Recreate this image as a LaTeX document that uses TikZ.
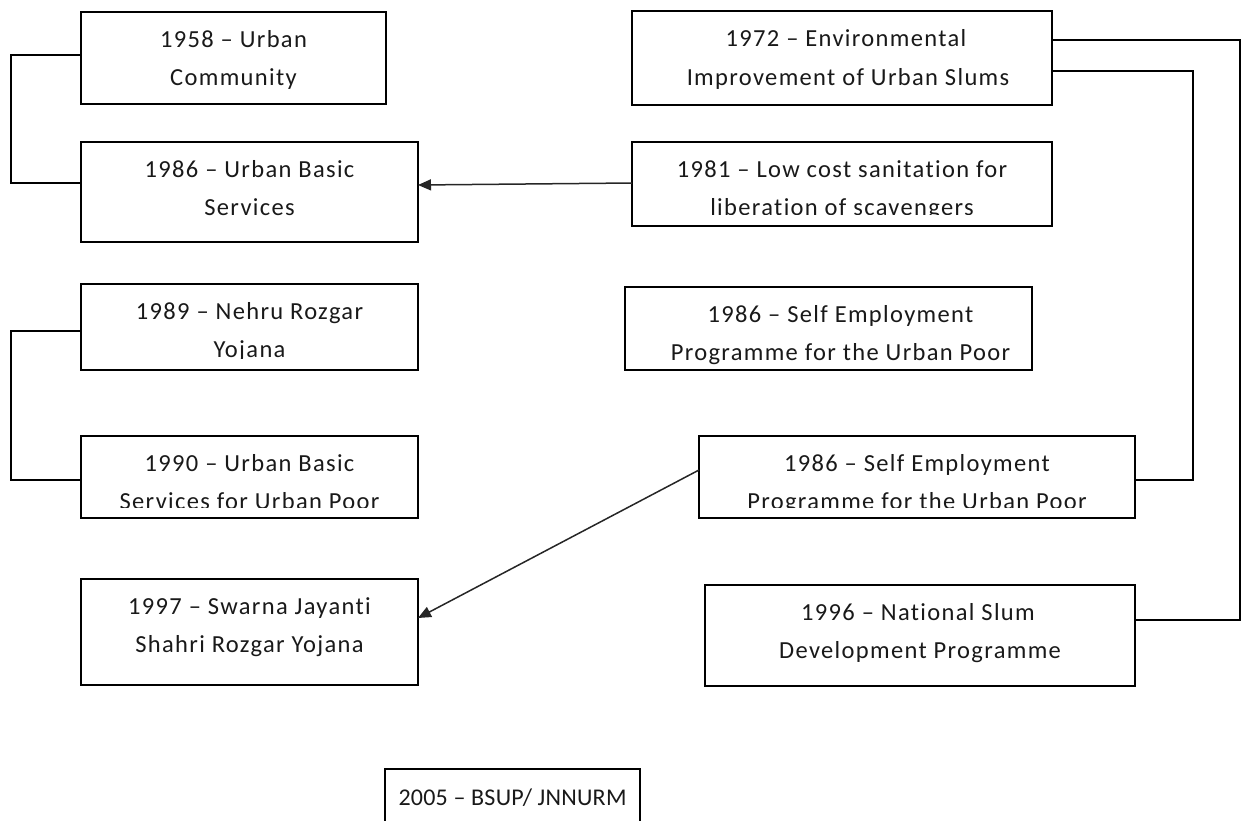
\documentclass[tikz,border=0pt]{standalone}
\usepackage{fontspec}
\setmainfont{Carlito}[LetterSpace=5.5,Ligatures=NoCommon]
\usetikzlibrary{arrows.meta}
\tikzset{
  box/.style={draw=black, line width=1.5pt, rectangle, inner sep=0pt, outer sep=0pt},
  txt/.style={inner sep=0pt, outer sep=0pt, anchor=base, font=\fontsize{24.5}{38}\selectfont, text=black!90},
  link/.style={draw=black, line width=1.5pt},
  arr/.style={draw=black!85, line width=1.5pt, -{Triangle[length=13pt,width=11pt]}},
}
\begin{document}
\begin{tikzpicture}[x=1pt,y=-1pt]
\useasboundingbox (0,0) rectangle (1243,820);
\clip (0,0) rectangle (1243,820);
% boxes
\node[box, minimum width=305pt, minimum height=92pt] (A) at (233.5,58) {};
\node[box, minimum width=337pt, minimum height=100pt] (B) at (249.5,192) {};
\node[box, minimum width=420pt, minimum height=94pt] (C) at (842,58) {};
\node[box, minimum width=420pt, minimum height=84pt] (D) at (842,184) {};
\node[box, minimum width=407pt, minimum height=83pt] (E) at (828.5,328.5) {};
\node[box, minimum width=436pt, minimum height=82pt] (F) at (917,477) {};
\node[box, minimum width=430pt, minimum height=101pt] (G) at (920,635.5) {};
\node[box, minimum width=337pt, minimum height=86pt] (H) at (249.5,327) {};
\node[box, minimum width=337pt, minimum height=82pt] (I) at (249.5,477) {};
\node[box, minimum width=337pt, minimum height=106pt] (J) at (249.5,632) {};
\node[box, minimum width=255pt, minimum height=80pt] (K) at (512.5,809) {};
% texts
\node[txt] (A1) at ([yshift=-35pt]A.north) {1958 – Urban};
\node[txt] (A2) at ([yshift=-73pt]A.north) {Community};
\node[txt] (B1) at ([yshift=-35pt]B.north) {1986 – Urban Basic};
\node[txt] (B2) at ([yshift=-73pt]B.north) {Services};
\node[txt] (C1) at ([yshift=-35pt,xshift=4pt]C.north) {1972 – Environmental};
\node[txt] (C2) at ([yshift=-74pt,xshift=6pt]C.north) {Improvement of Urban Slums};
\begin{scope}
\clip (D.north west) rectangle ([yshift=12pt]D.south east);
\node[txt] (D1) at ([yshift=-35pt]D.north) {1981 – Low cost sanitation for};
\node[txt] (D2) at ([yshift=-73pt]D.north) {liberation of scavengers};
\end{scope}
\node[txt] (E1) at ([yshift=-35pt,xshift=12pt]E.north) {1986 – Self Employment};
\node[txt] (E2) at ([yshift=-73pt,xshift=12pt]E.north) {Programme for the Urban Poor};
\begin{scope}
\clip (F.north west) rectangle ([yshift=11pt]F.south east);
\node[txt] (F1) at ([yshift=-35pt]F.north) {1986 – Self Employment};
\node[txt] (F2) at ([yshift=-73pt]F.north) {Programme for the Urban Poor};
\end{scope}
\node[txt] (G1) at ([yshift=-35pt,xshift=-2pt]G.north) {1996 – National Slum};
\node[txt] (G2) at ([yshift=-73pt]G.north) {Development Programme};
\begin{scope}
\clip (H.north west) rectangle ([yshift=12pt]H.south east);
\node[txt] (H1) at ([yshift=-35pt]H.north) {1989 – Nehru Rozgar};
\node[txt] (H2) at ([yshift=-73pt]H.north) {Yojana};
\end{scope}
\begin{scope}
\clip (I.north west) rectangle ([yshift=11pt]I.south east);
\node[txt] (I1) at ([yshift=-35pt]I.north) {1990 – Urban Basic};
\node[txt] (I2) at ([yshift=-73pt]I.north) {Services for Urban Poor};
\end{scope}
\node[txt] (J1) at ([yshift=-35pt]J.north) {1997 – Swarna Jayanti};
\node[txt] (J2) at ([yshift=-73pt]J.north) {Shahri Rozgar Yojana};
\node[txt, font=\fontsize{24}{38}\selectfont\addfontfeatures{LetterSpace=1}] (K1) at ([yshift=-36pt]K.north) {2005 – BSUP/ JNNURM};
% connectors
\draw[link] ([yshift=3pt]A.west) -- ++(-70,0) |- ([yshift=9pt]B.west);
\draw[link] ([yshift=-4pt]H.west) -- ++(-70,0) |- ([yshift=-3pt]I.west);
\draw[link] ([yshift=18pt]C.east) -| (1240,620) -- ([yshift=15.5pt]G.east);
\draw[link] ([yshift=-13pt]C.east) -| (1193,480) -- ([yshift=-3pt]F.east);
\draw[arr] ([yshift=1pt]D.west) -- ([yshift=7pt]B.east);
\draw[arr] ([yshift=7pt]F.west) -- ([yshift=14pt]J.east);
\end{tikzpicture}
\end{document}
